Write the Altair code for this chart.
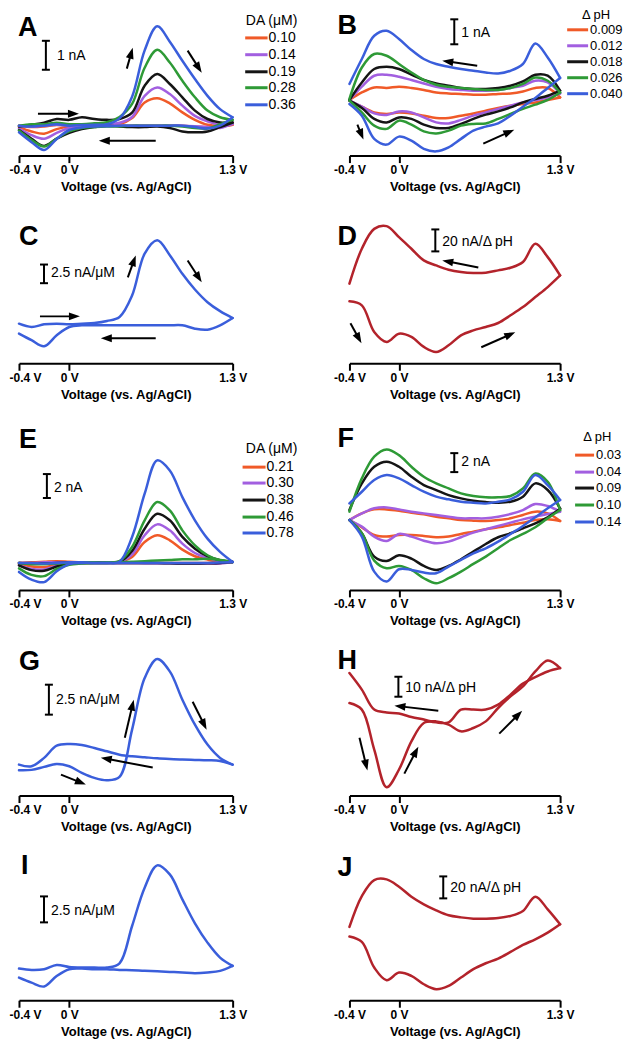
import math
import altair as alt
import pandas as pd

FONT = "Liberation Sans"

# Common voltage grid (V vs. Ag/AgCl)
V = [-0.4, -0.3, -0.2, -0.1, 0.0, 0.1, 0.2, 0.3, 0.4, 0.5, 0.6, 0.7, 0.8, 0.9, 1.0, 1.1, 1.2, 1.3]

ORANGE, PURPLE, BLACK, GREEN, BLUE, DARKRED = "#F05A28", "#A25FE0", "#151515", "#2E9A36", "#3A5EDB", "#B3232B"
SERIES_COLORS = [ORANGE, PURPLE, BLACK, GREEN, BLUE]

# ---------------- Panel A (nA), DA (uM)
A_labels = ["0.10", "0.14", "0.19", "0.28", "0.36"]
A_fwd_010 = [0.0, -0.05, -0.03, 0.02, 0.0, 0.0, 0.02, 0.02, 0.05, 0.26, 0.8, 0.95, 0.77, 0.46, 0.2, 0.03, 0.0, 0.03]
A_rev_010 = [-0.05, -0.2, -0.28, -0.12, -0.03, 0.0, 0.0, 0.0, 0.0, 0.0, 0.0, 0.0, 0.0, 0.0, -0.03, -0.05, -0.03, 0.03]
A_fwd_014 = [0.0, -0.03, 0.0, 0.03, 0.0, 0.02, 0.03, 0.05, 0.1, 0.3, 1.03, 1.32, 1.09, 0.69, 0.34, 0.15, 0.03, 0.06]
A_rev_014 = [-0.1, -0.33, -0.45, -0.25, -0.08, -0.03, 0.0, 0.0, 0.0, 0.0, 0.0, 0.0, 0.0, 0.0, -0.02, -0.05, -0.08, 0.06]
A_fwd_019 = [-0.03, 0.03, 0.1, 0.23, 0.2, 0.29, 0.23, 0.2, 0.23, 0.45, 1.38, 1.78, 1.44, 0.98, 0.52, 0.23, 0.11, 0.11]
A_rev_019 = [-0.15, -0.45, -0.7, -0.45, -0.25, -0.12, -0.05, 0.0, -0.03, -0.05, -0.05, -0.03, -0.08, -0.2, -0.23, -0.2, -0.05, 0.11]
A_fwd_028 = [0.0, 0.05, 0.05, 0.1, 0.05, 0.05, 0.08, 0.12, 0.3, 0.75, 2.0, 2.62, 2.18, 1.55, 0.98, 0.52, 0.29, 0.2]
A_rev_028 = [-0.17, -0.5, -0.72, -0.45, -0.2, -0.08, -0.05, -0.03, -0.02, 0.0, 0.0, 0.0, 0.0, -0.03, -0.08, -0.1, 0.05, 0.2]
A_fwd_036 = [0.0, -0.03, 0.0, 0.05, 0.0, 0.02, 0.03, 0.05, 0.25, 1.0, 2.6, 3.43, 2.9, 2.24, 1.61, 1.03, 0.57, 0.29]
A_rev_036 = [-0.23, -0.57, -0.84, -0.46, -0.15, -0.06, -0.03, -0.02, 0.0, 0.0, 0.0, 0.0, 0.0, 0.0, -0.05, -0.1, 0.0, 0.29]

# ---------------- Panel B (nA), delta pH
B_labels = ["0.009", "0.012", "0.018", "0.026", "0.040"]
B_fwd_0009 = [0.0, -0.24, -0.47, -0.53, -0.47, -0.51, -0.6, -0.69, -0.69, -0.6, -0.51, -0.4, -0.29, -0.2, -0.13, -0.07, 0.03, 0.13]
B_rev_0009 = [0.03, 0.33, 0.53, 0.51, 0.56, 0.51, 0.43, 0.33, 0.29, 0.27, 0.24, 0.24, 0.27, 0.29, 0.37, 0.51, 0.51, 0.13]
B_fwd_0012 = [0.0, -0.24, -0.51, -0.57, -0.43, -0.47, -0.67, -0.87, -0.91, -0.77, -0.6, -0.47, -0.33, -0.2, -0.07, 0.03, 0.13, 0.29]
B_rev_0012 = [0.03, 0.56, 1.0, 1.04, 0.96, 0.83, 0.69, 0.56, 0.47, 0.43, 0.4, 0.4, 0.43, 0.51, 0.6, 0.8, 0.73, 0.29]
B_fwd_0018 = [0.0, -0.29, -0.73, -0.87, -0.67, -0.73, -0.96, -1.09, -1.09, -0.93, -0.73, -0.56, -0.43, -0.27, -0.07, 0.07, 0.2, 0.4]
B_rev_0018 = [0.03, 0.73, 1.27, 1.36, 1.27, 1.04, 0.83, 0.69, 0.6, 0.51, 0.47, 0.47, 0.51, 0.6, 0.77, 1.04, 1.0, 0.4]
B_fwd_0026 = [0.0, -0.47, -1.0, -1.13, -0.8, -0.96, -1.23, -1.31, -1.2, -1.0, -0.93, -0.91, -0.73, -0.53, -0.33, -0.16, 0.03, 0.33]
B_rev_0026 = [0.07, 1.33, 1.87, 1.8, 1.47, 1.13, 0.83, 0.64, 0.56, 0.51, 0.47, 0.43, 0.43, 0.51, 0.67, 0.93, 0.8, 0.33]
B_fwd_0040 = [-0.13, -0.6, -1.53, -1.76, -1.44, -1.6, -1.93, -2.03, -1.87, -1.53, -1.2, -1.04, -0.91, -0.6, -0.24, 0.11, 0.51, 0.91]
B_rev_0040 = [0.67, 1.67, 2.6, 2.8, 2.47, 2.03, 1.67, 1.47, 1.36, 1.27, 1.2, 1.13, 1.09, 1.2, 1.47, 2.29, 1.73, 0.91]

# ---------------- Panel C (nA/uM)
C_fwd = [0.22, -0.22, 0.13, 0.22, 0.13, 0.22, 0.31, 0.58, 1.12, 4.0, 9.6, 11.4, 9.4, 6.9, 4.8, 3.1, 1.9, 0.98]
C_rev = [-1.12, -2.0, -2.8, -1.34, -0.22, 0.0, 0.0, 0.0, 0.0, 0.0, 0.0, 0.0, 0.0, 0.0, -0.45, -0.58, 0.0, 0.98]

# ---------------- Panel D (nA/dpH)
D_fwd = [-10.0, -13.6, -37.9, -47.0, -39.4, -42.4, -51.5, -56.1, -50.0, -40.9, -36.4, -33.3, -29.7, -22.7, -15.2, -6.1, 3.0, 13.6]
D_rev = [6.1, 37.9, 56.0, 58.5, 48.5, 37.9, 27.3, 22.7, 18.8, 16.7, 15.8, 16.1, 18.2, 20.6, 25.8, 42.4, 30.3, 13.6]

# ---------------- Panel E (nA), DA (uM)
E_labels = ["0.21", "0.30", "0.38", "0.46", "0.78"]
E_fwd_021 = [0.0, 0.05, 0.1, 0.15, 0.1, 0.05, 0.05, 0.05, 0.1, 0.5, 1.75, 2.31, 1.89, 1.11, 0.56, 0.28, 0.08, 0.08]
E_rev_021 = [-0.1, -0.3, -0.35, -0.15, 0.0, 0.0, 0.0, 0.0, 0.0, 0.0, 0.0, 0.0, 0.0, 0.0, 0.0, 0.0, 0.0, 0.08]
E_fwd_030 = [0.0, 0.0, 0.05, 0.05, 0.05, 0.03, 0.03, 0.03, 0.08, 0.72, 2.31, 3.22, 2.72, 1.61, 0.83, 0.42, 0.17, 0.08]
E_rev_030 = [-0.2, -0.5, -0.55, -0.25, -0.05, 0.0, 0.0, 0.0, 0.0, 0.0, -0.03, -0.03, -0.03, -0.05, -0.05, -0.05, -0.05, 0.08]
E_fwd_038 = [0.0, -0.05, -0.05, 0.0, 0.03, 0.03, 0.03, 0.03, 0.1, 1.0, 2.86, 4.11, 3.56, 2.17, 1.19, 0.56, 0.22, 0.08]
E_rev_038 = [-0.2, -0.6, -0.65, -0.3, -0.05, 0.0, 0.0, 0.0, 0.0, 0.0, 0.0, 0.0, -0.03, -0.05, -0.05, -0.03, 0.0, 0.08]
E_fwd_046 = [0.0, -0.1, -0.1, -0.05, 0.0, 0.05, 0.05, 0.05, 0.15, 1.33, 3.56, 5.08, 4.39, 2.72, 1.47, 0.64, 0.22, 0.08]
E_rev_046 = [-0.45, -1.0, -1.1, -0.5, -0.15, -0.05, 0.0, 0.0, 0.05, 0.1, 0.15, 0.2, 0.25, 0.3, 0.3, 0.35, 0.25, 0.08]
E_fwd_078 = [0.0, 0.0, -0.05, 0.0, 0.05, 0.05, 0.0, 0.0, 0.1, 2.17, 5.78, 8.56, 7.72, 5.5, 3.56, 2.03, 0.92, 0.08]
E_rev_078 = [-0.75, -1.4, -1.6, -0.7, -0.1, 0.0, 0.0, 0.0, 0.0, 0.0, 0.0, 0.0, 0.0, 0.0, 0.0, 0.0, 0.03, 0.08]

# ---------------- Panel F (nA), delta pH
F_labels = ["0.03", "0.04", "0.09", "0.10", "0.14"]
F_fwd_003 = [0.0, -0.77, -1.58, -1.75, -1.58, -1.58, -1.68, -1.82, -1.75, -1.47, -1.23, -0.98, -0.77, -0.53, -0.28, 0.0, 0.07, -0.1]
F_rev_003 = [0.0, 0.7, 1.12, 1.12, 0.98, 0.77, 0.6, 0.35, 0.18, 0.0, -0.07, -0.1, 0.0, 0.18, 0.53, 0.88, 0.7, -0.1]
F_fwd_004 = [0.0, -0.7, -1.75, -2.21, -1.47, -1.75, -2.18, -2.46, -2.28, -1.82, -1.33, -0.98, -0.63, -0.28, 0.07, 0.35, 0.63, 0.88]
F_rev_004 = [0.0, 0.7, 1.23, 1.33, 1.12, 0.88, 0.7, 0.53, 0.35, 0.18, 0.18, 0.18, 0.35, 0.63, 1.05, 1.68, 1.47, 0.88]
F_fwd_009 = [0.0, -1.4, -3.86, -4.32, -3.72, -4.07, -4.84, -5.26, -4.84, -4.14, -3.33, -2.53, -1.82, -1.4, -0.88, -0.35, 0.28, 1.2]
F_rev_009 = [1.05, 3.86, 5.61, 6.14, 5.61, 4.56, 3.68, 3.16, 2.63, 2.28, 2.04, 1.89, 1.82, 1.93, 2.46, 3.86, 3.16, 1.2]
F_fwd_010 = [0.0, -1.4, -4.28, -5.09, -4.84, -5.26, -6.14, -6.67, -6.14, -5.44, -4.63, -3.86, -2.98, -2.11, -1.47, -0.77, 0.18, 1.05]
F_rev_010 = [0.88, 4.39, 6.67, 7.44, 6.84, 5.61, 4.56, 3.86, 3.33, 2.81, 2.53, 2.39, 2.39, 2.53, 3.33, 4.91, 4.04, 1.05]
F_fwd_014 = [0.0, -1.75, -5.44, -6.49, -5.19, -5.26, -5.54, -5.61, -4.91, -4.21, -3.51, -2.98, -2.28, -1.47, -0.63, 0.28, 1.23, 2.11]
F_rev_014 = [1.75, 2.98, 4.21, 4.74, 4.39, 3.68, 2.98, 2.46, 2.18, 1.93, 1.82, 1.75, 1.93, 2.18, 2.98, 4.74, 3.68, 2.11]

# ---------------- Panel G (nA/uM)
G_fwd = [-0.47, -0.44, -0.19, 0.06, -0.14, -0.69, -1.11, -1.31, -1.03, 2.92, 7.22, 8.81, 7.78, 5.42, 3.33, 1.67, 0.56, 0.0]
G_rev = [0.0, -0.14, 0.56, 1.58, 1.72, 1.64, 1.39, 1.11, 0.83, 0.69, 0.61, 0.53, 0.47, 0.42, 0.39, 0.36, 0.31, 0.0]

# ---------------- Panel H (nA/dpH)
H_fwd = [0.0, -3.3, -23.3, -42.2, -33.3, -19.2, -10.0, -9.2, -10.8, -14.2, -12.5, -9.2, -2.5, 3.3, 8.3, 15.8, 21.3, 17.5]
H_rev = [15.0, 6.7, -3.3, -4.7, -5.3, -7.0, -8.3, -9.7, -9.7, -3.3, -3.3, -3.3, -0.8, 4.2, 9.7, 13.0, 15.8, 17.5]

# ---------------- Panel I (nA/uM)
I_fwd = [0.0, -0.13, -0.06, 0.35, 0.16, 0.1, 0.1, 0.1, 0.51, 4.1, 7.79, 9.94, 9.07, 6.67, 4.36, 2.5, 1.06, 0.26]
I_rev = [-0.87, -1.35, -1.73, -0.71, -0.06, 0.0, -0.06, -0.06, -0.13, -0.16, -0.22, -0.26, -0.32, -0.38, -0.45, -0.38, -0.22, 0.26]

# ---------------- Panel J (nA/dpH)
J_fwd = [-3.6, -8.5, -31.8, -43.3, -36.4, -39.4, -47.0, -51.5, -48.5, -40.9, -33.3, -27.9, -23.6, -17.6, -11.2, -6.1, 0.0, 7.6]
J_rev = [5.2, 33.3, 47.9, 48.5, 41.8, 32.7, 25.8, 20.3, 15.8, 13.9, 12.7, 12.7, 13.3, 15.2, 19.7, 32.7, 21.2, 7.6]

ARROW = "M0,0L0.75,2.1L-0.75,2.1Z"


def curve_df(names, fwds, revs):
    rows = []
    for n, f, r in zip(names, fwds, revs):
        for v, i in zip(V, f):
            rows.append({"V": v, "I": i, "curve": n, "dir": "fwd"})
        for v, i in zip(V, r):
            rows.append({"V": v, "I": i, "curve": n, "dir": "rev"})
    return pd.DataFrame(rows)


def make_panel(p):
    w, h, ydom, left = p["w"], p["h"], p["ydom"], p["left"]
    pxv = w / 1.7
    ppu = h / (ydom[1] - ydom[0])
    axis_kw = dict(values=[-0.4, 0, 1.3],
                   labelExpr="datum.value < -0.1 ? '-0.4 V' : (datum.value > 1 ? '1.3 V' : '0 V')",
                   title="Voltage (vs. Ag/AgCl)", grid=False, labelFlush=False)
    if left:
        axis_kw["labelOffset"] = {"condition": {"test": "datum.value < -0.1", "value": 6}, "value": 0}
    X = alt.X("V:Q", scale=alt.Scale(domain=[-0.4, 1.3], nice=False, zero=False), axis=alt.Axis(**axis_kw))
    Y = alt.Y("I:Q", scale=alt.Scale(domain=ydom, nice=False, zero=False), axis=None)
    cscale = alt.Scale(domain=p["names"], range=p["colors"])
    layers = []
    df = curve_df(p["names"], p["fwds"], p["revs"])
    layers.append(alt.Chart(df).mark_line(interpolate="catmull-rom", strokeWidth=2.5, strokeJoin="round", strokeCap="round").encode(
        x=X, y=Y, color=alt.Color("curve:N", scale=cscale, legend=None), detail="dir:N"))
    # panel letter
    lv, li = p["letter_at"]
    layers.append(alt.Chart(pd.DataFrame([{"V": lv, "I": li, "t": p["letter"]}])).mark_text(
        align="left", baseline="alphabetic", fontSize=27, fontWeight="bold", font=FONT, color="black").encode(x=X, y=Y, text="t:N"))
    # scale bar
    sv, s1, s2 = p["bar"]
    d = 4.0 / pxv
    layers.append(alt.Chart(pd.DataFrame([{"V": sv, "I": s1, "I2": s2}])).mark_rule(strokeWidth=2, color="black").encode(
        x=X, y=Y, y2="I2:Q"))
    layers.append(alt.Chart(pd.DataFrame([{"V": sv - d, "V2": sv + d, "I": s1}, {"V": sv - d, "V2": sv + d, "I": s2}])).mark_rule(
        strokeWidth=2, color="black").encode(x=X, x2="V2:Q", y=Y))
    tv, ti, tt = p["bar_label"]
    layers.append(alt.Chart(pd.DataFrame([{"V": tv, "I": ti, "t": tt}])).mark_text(
        align="left", baseline="middle", fontSize=14, font=FONT, color="black").encode(x=X, y=Y, text="t:N"))
    # arrows
    if p.get("arrows"):
        shafts, heads = [], []
        for (v1, i1, v2, i2) in p["arrows"]:
            dxp = (v2 - v1) * pxv
            dyp = (i2 - i1) * ppu
            L = math.hypot(dxp, dyp)
            f = max(0.0, (L - 6.0) / L)
            shafts.append({"V": v1, "I": i1, "V2": v1 + (v2 - v1) * f, "I2": i1 + (i2 - i1) * f})
            ang = math.degrees(math.atan2(dxp, dyp)) % 360
            heads.append({"V": v2, "I": i2, "ang": ang})
        layers.append(alt.Chart(pd.DataFrame(shafts)).mark_rule(strokeWidth=2, color="black").encode(
            x=X, y=Y, x2="V2:Q", y2="I2:Q"))
        layers.append(alt.Chart(pd.DataFrame(heads)).mark_point(shape=ARROW, filled=True, size=110, color="black",
                                                                   opacity=1, strokeWidth=0).encode(
            x=X, y=Y, angle=alt.Angle("ang:Q", scale=None)))
    # legend
    if p.get("legend"):
        lg = p["legend"]
        layers.append(alt.Chart(pd.DataFrame([{"V": lg["title_at"][0], "I": lg["title_at"][1], "t": lg["title"]}])).mark_text(
            align="center", baseline="middle", fontSize=lg["fs"], font=FONT, color="black").encode(x=X, y=Y, text="t:N"))
        sw = pd.DataFrame([{"V": lg["sw"][0], "V2": lg["sw"][1], "I": r, "curve": n} for n, r in zip(p["names"], lg["rows"])])
        layers.append(alt.Chart(sw).mark_rule(strokeWidth=3).encode(
            x=X, x2="V2:Q", y=Y, color=alt.Color("curve:N", scale=cscale, legend=None)))
        tx = pd.DataFrame([{"V": lg["text_v"], "I": r, "t": n} for n, r in zip(p["names"], lg["rows"])])
        layers.append(alt.Chart(tx).mark_text(align="left", baseline="middle", fontSize=lg["fs"], font=FONT,
                                              color="black").encode(x=X, y=Y, text="t:N"))
    return alt.layer(*layers).properties(width=w, height=h)


WL, WR = 214, 211
panels = {
    "A": dict(w=WL, h=147, ydom=[-1.034, 4.034], left=True, names=A_labels, colors=SERIES_COLORS,
              fwds=[A_fwd_010, A_fwd_014, A_fwd_019, A_fwd_028, A_fwd_036],
              revs=[A_rev_010, A_rev_014, A_rev_019, A_rev_028, A_rev_036],
              letter="A", letter_at=(-0.408, 3.10), bar=(-0.186, 1.93, 2.93), bar_label=(-0.098, 2.41, "1 nA"),
              arrows=[(-0.249, 0.41, 0.077, 0.41), (0.688, -0.52, 0.235, -0.52), (0.458, 1.97, 0.505, 2.69),
                      (0.942, 2.59, 1.054, 1.83)],
              legend=dict(title="DA (\u03bcM)", title_at=(1.61, 3.62), sw=(1.40, 1.578), text_v=1.586,
                          rows=[3.03, 2.45, 1.86, 1.31, 0.72], fs=14)),
    "B": dict(w=WR, h=147, ydom=[-2.2, 3.68], left=False, names=B_labels, colors=SERIES_COLORS,
              fwds=[B_fwd_0009, B_fwd_0012, B_fwd_0018, B_fwd_0026, B_fwd_0040],
              revs=[B_rev_0009, B_rev_0012, B_rev_0018, B_rev_0026, B_rev_0040],
              letter="B", letter_at=(-0.497, 2.68), bar=(0.446, 2.26, 3.26), bar_label=(0.503, 2.72, "1 nA"),
              arrows=[(0.631, 1.4, 0.349, 1.6), (-0.336, -0.96, -0.287, -1.56), (0.68, -1.72, 0.93, -1.16)],
              legend=dict(title="\u0394 pH", title_at=(1.59, 3.44), sw=(1.357, 1.526), text_v=1.542,
                          rows=[2.84, 2.2, 1.56, 0.92, 0.28], fs=13)),
    "C": dict(w=WL, h=148, ydom=[-5.087, 14.726], left=True, names=["C"], colors=[BLUE],
              fwds=[C_fwd], revs=[C_rev],
              letter="C", letter_at=(-0.4, 10.71), bar=(-0.201, 5.65, 8.15), bar_label=(-0.146, 6.96, "2.5 nA/\u03bcM"),
              arrows=[(-0.233, 1.2, 0.085, 1.2), (0.688, -1.74, 0.251, -1.74), (0.466, 6.43, 0.529, 9.37),
                      (0.942, 8.7, 1.054, 5.76)]),
    "D": dict(w=WR, h=148, ydom=[-66.36, 68.18], left=False, names=["D"], colors=[DARKRED],
              fwds=[D_fwd], revs=[D_rev],
              letter="D", letter_at=(-0.497, 40.9), bar=(0.293, 35.5, 55.5), bar_label=(0.349, 43.6, "20 nA/\u0394 pH"),
              arrows=[(0.64, 20.9, 0.349, 27.3), (-0.392, -30.0, -0.303, -48.2), (0.664, -51.8, 0.938, -38.2)]),
    "E": dict(w=WL, h=167, ydom=[-2.25, 11.67], left=True, names=E_labels, colors=SERIES_COLORS,
              fwds=[E_fwd_021, E_fwd_030, E_fwd_038, E_fwd_046, E_fwd_078],
              revs=[E_rev_021, E_rev_030, E_rev_038, E_rev_046, E_rev_078],
              letter="E", letter_at=(-0.4, 9.58), bar=(-0.178, 5.42, 7.42), bar_label=(-0.122, 6.25, "2 nA"),
              legend=dict(title="DA (\u03bcM)", title_at=(1.61, 9.5), sw=(1.379, 1.562), text_v=1.57,
                          rows=[8.0, 6.67, 5.25, 3.83, 2.5], fs=14)),
    "F": dict(w=WR, h=167, ydom=[-7.368, 10.21], left=False, names=F_labels, colors=SERIES_COLORS,
              fwds=[F_fwd_003, F_fwd_004, F_fwd_009, F_fwd_010, F_fwd_014],
              revs=[F_rev_003, F_rev_004, F_rev_009, F_rev_010, F_rev_014],
              letter="F", letter_at=(-0.497, 7.68), bar=(0.446, 5.05, 7.05), bar_label=(0.503, 6.1, "2 nA"),
              legend=dict(title="\u0394 pH", title_at=(1.6, 8.74), sw=(1.421, 1.574), text_v=1.59,
                          rows=[6.84, 5.05, 3.37, 1.58, -0.21], fs=13)),
    "G": dict(w=WL, h=146, ydom=[-2.583, 9.583], left=True, names=["G"], colors=[BLUE],
              fwds=[G_fwd], revs=[G_rev],
              letter="G", letter_at=(-0.4, 7.92), bar=(-0.162, 4.17, 6.67), bar_label=(-0.106, 5.42, "2.5 nA/\u03bcM"),
              arrows=[(0.442, 2.25, 0.513, 5.42), (0.982, 5.25, 1.093, 2.92), (0.664, -0.25, 0.251, 0.58),
                      (-0.066, -0.83, 0.132, -1.67)]),
    "H": dict(w=WR, h=146, ydom=[-46.35, 26.65], left=False, names=["H"], colors=[DARKRED],
              fwds=[H_fwd], revs=[H_rev],
              letter="H", letter_at=(-0.497, 17.15), bar=(-0.005, 3.15, 13.15), bar_label=(0.051, 7.65, "10 nA/\u0394 pH"),
              arrows=[(0.317, -3.85, -0.037, -1.35), (-0.319, -17.35, -0.255, -33.85), (0.043, -35.35, 0.156, -21.85),
                      (0.809, -15.35, 0.994, -3.85)]),
    "I": dict(w=WL, h=145, ydom=[-3.048, 10.894], left=True, names=["I"], colors=[BLUE],
              fwds=[I_fwd], revs=[I_rev],
              letter="I", letter_at=(-0.384, 9.07), bar=(-0.201, 4.45, 6.95), bar_label=(-0.146, 5.51, "2.5 nA/\u03bcM")),
    "J": dict(w=WR, h=145, ydom=[-61.55, 70.27], left=False, names=["J"], colors=[DARKRED],
              fwds=[J_fwd], revs=[J_rev],
              letter="J", letter_at=(-0.497, 51.2), bar=(0.357, 31.2, 51.2), bar_label=(0.414, 40.4, "20 nA/\u0394 pH")),
}

order = ["A", "B", "C", "D", "E", "F", "G", "H", "I", "J"]
chart = alt.concat(
    *[make_panel(panels[k]) for k in order],
    columns=2, spacing={"row": 60, "column": 117}, bounds="flush", align="each",
).resolve_scale(color="independent", x="independent", y="independent").properties(padding=0).configure_view(
    strokeWidth=0
).configure_axis(
    domainColor="black", domainWidth=2, tickColor="black", tickWidth=2, tickSize=7,
    labelFont=FONT, labelFontWeight="bold", labelFontSize=12, labelColor="black", labelPadding=2,
    titleFont=FONT, titleFontWeight="bold", titleFontSize=13, titleColor="black", titlePadding=5,
)

chart.save("out.html", embed_options={"renderer": "svg", "actions": False})
